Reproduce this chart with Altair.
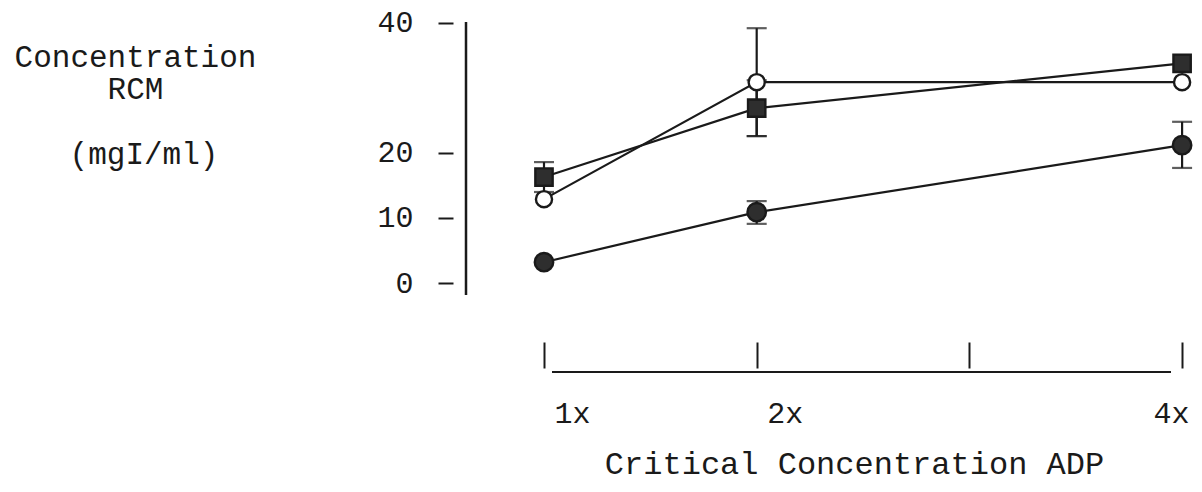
import altair as alt
import pandas as pd

# ---- data ----
x_levels = [1, 2, 4]
x_tick_values = [1, 2, 3, 4]
y_tick_values = [0, 10, 20, 40]
series_names = ["filled", "square", "open"]
y_title_lines = ["Concentration", "RCM"]
y_unit_text = ["(mgI/ml)"]

filled_mean = [3.2, 10.9, 21.2]
filled_lo = [None, 9.1, 17.7]
filled_hi = [None, 12.6, 24.8]

square_mean = [16.3, 26.9, 33.8]
square_lo = [14.0, 22.6, None]
square_hi = [18.6, 31.2, None]

open_mean = [12.9, 30.9, 30.9]
open_lo = [None, 22.6, None]
open_hi = [None, 39.2, None]

rows = []
for name, m, lo, hi in [
    ("filled", filled_mean, filled_lo, filled_hi),
    ("square", square_mean, square_lo, square_hi),
    ("open", open_mean, open_lo, open_hi),
]:
    for xv, mv, l, h in zip(x_levels, m, lo, hi):
        rows.append({"series": name, "x": xv, "mean": mv, "lo": l, "hi": h})
df = pd.DataFrame(rows)
err = df.dropna(subset=["lo", "hi"])

FONT = "Liberation Mono"
INK = "#1a1a1a"

x_scale = alt.Scale(domain=[0.6333, 4.0936], nice=False, zero=False)
y_scale = alt.Scale(domain=[-2.615, 40.46], nice=False, zero=False)

x_axis = alt.Axis(
    values=x_tick_values,
    labelExpr="datum.value == 3 ? '' : datum.value + 'x'",
    domain=False, grid=False,
    offset=42, tickSize=26, tickWidth=2, tickColor=INK,
    labelFont=FONT, labelFontSize=30, labelColor=INK,
    labelPadding=30, labelAlign="center",
    labelOffset={"condition": {"test": "datum.value == 4", "value": -11}, "value": 28},
    labelFlush=False, labelOverlap=False, labelBound=False,
    title="Critical Concentration ADP",
    titleFont=FONT, titleFontSize=32, titleFontWeight="normal", titleColor=INK,
    titleX=388, titleY=121, titleAlign="center", titleBaseline="middle",
)
y_axis = alt.Axis(
    values=y_tick_values,
    domain=False, grid=False,
    offset=13, tickSize=15, tickWidth=2, tickColor=INK,
    labelFont=FONT, labelFontSize=30, labelColor=INK,
    labelPadding=25, labelFlush=False, labelOverlap=False,
    title=y_title_lines,
    titleFont=FONT, titleFontSize=31, titleFontWeight="normal", titleColor=INK,
    titleAngle=0, titleAlign="center", titleBaseline="top",
    titleLineHeight=32.5, titleX=-318, titleY=22,
)

X = alt.X("x:Q", scale=x_scale, axis=x_axis)

base = alt.Chart(df)

lines = base.mark_line(color=INK, strokeWidth=2.2).encode(
    x=X,
    y=alt.Y("mean:Q", scale=y_scale, axis=y_axis),
    detail="series:N",
)

err_rule = alt.Chart(err).mark_rule(color=INK, strokeWidth=2.2).encode(
    x=X,
    y=alt.Y("lo:Q", scale=y_scale, axis=y_axis),
    y2="hi:Q",
)
cap_hi = alt.Chart(err).mark_tick(color=INK, orient="horizontal", size=20, thickness=2.2).encode(
    x=X, y=alt.Y("hi:Q", scale=y_scale, axis=y_axis)
)
cap_lo = alt.Chart(err).mark_tick(color=INK, orient="horizontal", size=20, thickness=2.2).encode(
    x=X, y=alt.Y("lo:Q", scale=y_scale, axis=y_axis)
)

points = base.mark_point(opacity=1, strokeWidth=2.4, stroke=INK, filled=False).encode(
    x=X,
    y=alt.Y("mean:Q", scale=y_scale, axis=y_axis),
    shape=alt.Shape("series:N", scale=alt.Scale(domain=series_names, range=["circle", "square", "circle"]), legend=None),
    fill=alt.Fill("series:N", scale=alt.Scale(domain=series_names, range=["#2e2e2e", "#2e2e2e", "white"]), legend=None),
    size=alt.Size("series:N", scale=alt.Scale(domain=series_names, range=[340, 260, 320]), legend=None),
)

one = alt.Data(values=[{"k": 0}])
y_line = alt.Chart(one).mark_rule(color=INK, strokeWidth=2.5).encode(
    x=alt.value(0), y=alt.value(2), y2=alt.value(275)
)
x_line = alt.Chart(one).mark_rule(color=INK, strokeWidth=2).encode(
    x=alt.value(86), x2=alt.value(705), y=alt.value(352)
)
unit_label = alt.Chart(alt.Data(values=[{"t": y_unit_text[0]}])).mark_text(
    font=FONT, fontSize=31, color=INK, align="center", baseline="middle"
).encode(
    text="t:N", x=alt.value(-322), y=alt.value(135)
)

chart = alt.layer(y_line, x_line, unit_label, lines, err_rule, cap_hi, cap_lo, points).properties(
    width=736, height=280,
    autosize=alt.AutoSizeParams(type="none"),
    padding={"left": 466, "top": 20, "right": 0, "bottom": 192},
    background="white",
).configure_view(stroke=None)

chart.save("out.html", embed_options={"renderer": "svg", "actions": False})
